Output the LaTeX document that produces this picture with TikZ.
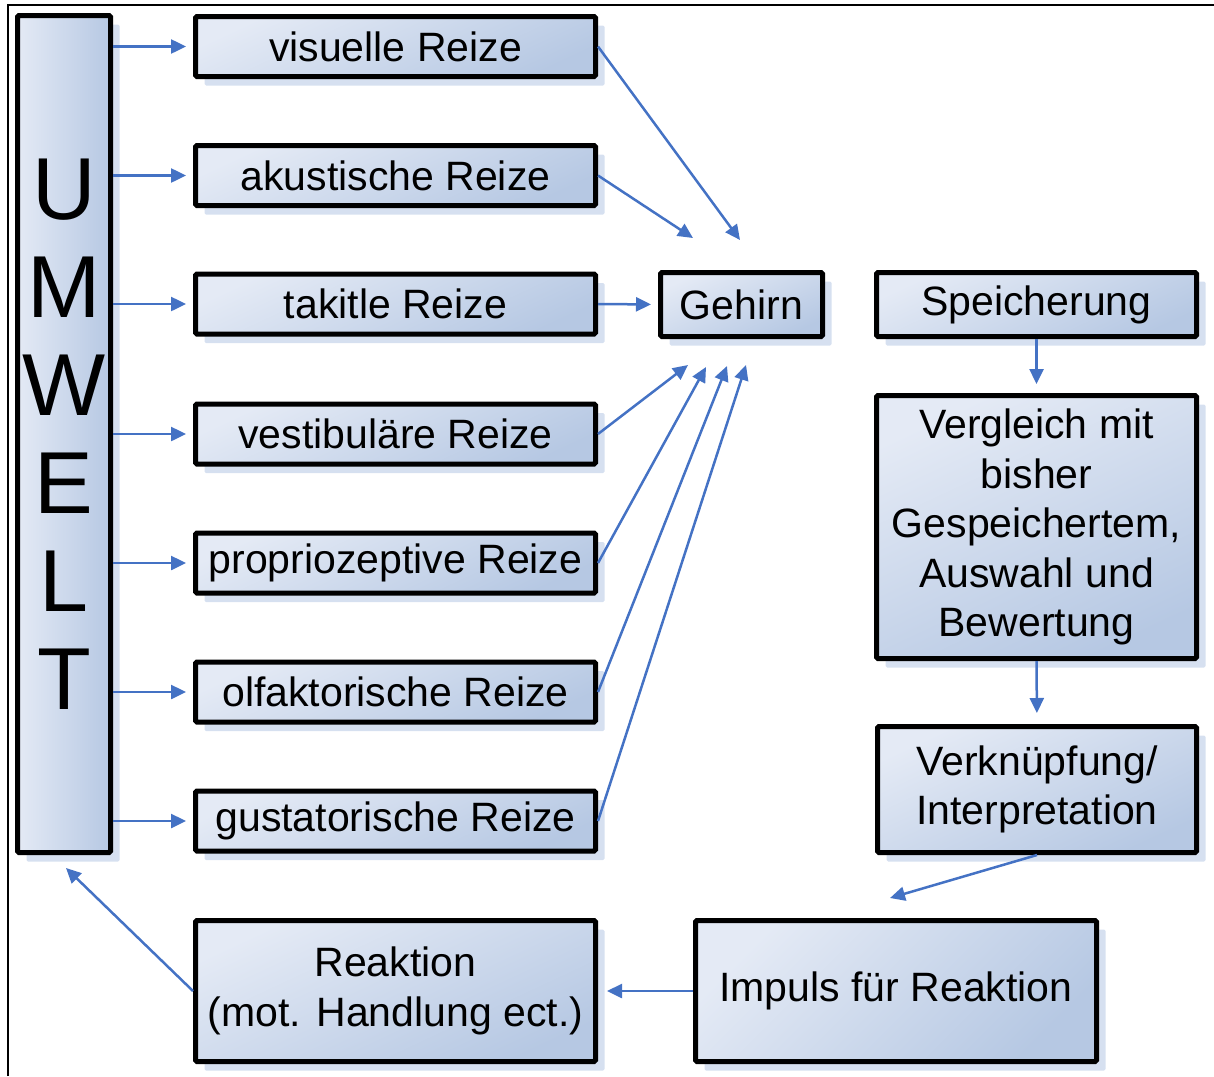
\documentclass[tikz,border=0pt]{standalone}
\usepackage{fontspec}
\setmainfont{Liberation Sans}
\usetikzlibrary{arrows.meta,shadows}
\definecolor{lightb}{RGB}{228,234,245}
\definecolor{darkb}{RGB}{182,200,227}
\definecolor{shadb}{RGB}{214,224,240}
\definecolor{arr}{RGB}{68,114,196}
\tikzset{
  box/.style={draw=black, line width=5pt, rounded corners=1.5pt, inner sep=0pt,
    top color=lightb, bottom color=darkb, shading angle=25,
    general shadow={fill=shadb, shadow xshift=9pt, shadow yshift=-9pt},
    align=center, font=\fontsize{41}{49.5}\selectfont},
  reiz/.style={box, minimum width=400pt, minimum height=60pt},
  conn/.style={draw=arr, line width=2.5pt, -{Triangle[length=15pt,width=14pt]}},
}
\begin{document}
\begin{tikzpicture}[x=1pt,y=-1pt]
\useasboundingbox (0,0) rectangle (1214,1076);
\draw[line width=2.5pt] (8,1076) -- (8,5) -- (1214,5);

\node[box, minimum width=93pt, minimum height=837pt, left color=lightb, right color=darkb,
  font=\fontsize{88}{98}\selectfont] (umw) at (64,434) {U\\M\\W\\E\\L\\T};

\node[reiz] (vis) at (395.5,46.5) {visuelle Reize};
\node[reiz] (aku) at (395.5,175.5) {akustische Reize};
\node[reiz] (tak) at (395.5,304) {takitle Reize};
\node[reiz] (ves) at (395.5,434) {vestibuläre Reize};
\node[reiz] (pro) at (395.5,563) {propriozeptive Reize};
\node[reiz] (olf) at (395.5,692) {olfaktorische Reize};
\node[reiz] (gus) at (395.5,821) {gustatorische Reize};

\node[box, minimum width=162pt, minimum height=64pt] (geh) at (741.5,304.5) {Gehirn};
\node[box, minimum width=320pt, minimum height=64pt] (spe) at (1036.5,304.5) {Speicherung};
\node[box, minimum width=320pt, minimum height=263pt] (ver) at (1036.5,527) {Vergleich mit\\bisher\\Gespeichertem,\\Auswahl und\\Bewertung};
\node[box, minimum width=319pt, minimum height=126pt] (vkn) at (1037,789.5) {Verknüpfung/\\Interpretation};
\node[box, minimum width=401pt, minimum height=141pt, shading angle=45] (imp) at (896,991) {Impuls für Reaktion};
\node[box, minimum width=400pt, minimum height=141pt] (rea) at (395.5,991) {Reaktion\\(mot. Handlung ect.)};

% UMWELT to stimuli
\foreach \n in {vis,aku,tak,ves,pro,olf,gus}
  \draw[conn, shorten >=7pt] (umw.east |- \n.west) -- (\n.west);

% stimuli to brain
\coordinate (g1) at (740,240);
\coordinate (g2) at (693,238);
\coordinate (g4) at (688,365);
\coordinate (g5) at (706,367);
\coordinate (g6) at (727,366);
\coordinate (g7) at (746,365);
\draw[conn] (vis.east) -- (g1);
\draw[conn] (aku.east) -- (g2);
\draw[conn, shorten >=7pt] (tak.east) -- (geh.west);
\draw[conn] (ves.east) -- (g4);
\draw[conn] (pro.east) -- (g5);
\draw[conn] (olf.east) -- (g6);
\draw[conn] (gus.east) -- (g7);

% right column
\draw[conn, shorten >=9pt] (spe.south) -- (ver.north);
\draw[conn, shorten >=11pt] (ver.south) -- (vkn.north);
\coordinate (ik) at (890,898);
\draw[conn] (vkn.south) -- (ik);
\draw[conn, shorten >=9pt] (imp.west) -- (rea.east);
\coordinate (uk) at (66,868);
\draw[conn] (rea.west) -- (uk);
\end{tikzpicture}
\end{document}
